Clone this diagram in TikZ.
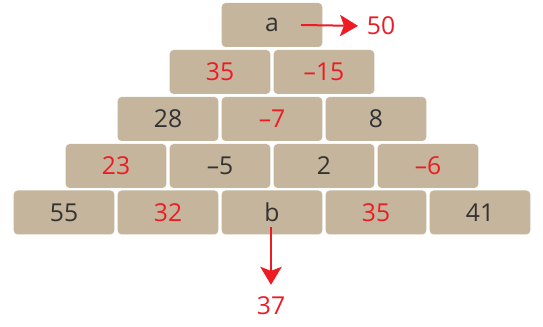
\documentclass[tikz,border=0pt]{standalone}
\usepackage{fontspec}
\setmainfont{Open Sans}
\usepackage{xcolor}
\usetikzlibrary{arrows.meta}

\definecolor{brickfill}{RGB}{196,181,156}
\definecolor{numred}{RGB}{237,28,36}
\definecolor{numdark}{RGB}{51,51,51}

\begin{document}
\begin{tikzpicture}[
    x=0.75pt, y=-0.75pt,
    font=\fontsize{18.5}{22}\selectfont,
    brick/.style={
        rectangle, rounded corners=3pt, fill=brickfill,
        minimum width=75.5pt, minimum height=33pt, inner sep=0pt,
        text=numdark
    },
    given/.style={brick, text=numdark},
    found/.style={brick, text=numred},
    result/.style={text=numred, inner sep=2pt},
    arrstyle/.style={-{Stealth[length=13.5pt,width=16pt,inset=3pt]}, line width=1.5pt, numred},
]
\useasboundingbox (0,0) rectangle (543,327);

% ---- Row 1 (top) ----
\node[given] (a) at (272,25) {a};

% ---- Row 2 ----
\node[found] (r2a) at (220,72) {35};
\node[found] (r2b) at (324,72) {–15};

% ---- Row 3 ----
\foreach \n/\x/\st/\lab in {a/168/given/28, b/272/found/–7, c/376/given/8} {
    \node[\st] (r3\n) at (\x,119) {\lab};
}

% ---- Row 4 ----
\foreach \n/\x/\st/\lab in {a/116/found/23, b/220/given/–5, c/324/given/2, d/428/found/–6} {
    \node[\st] (r4\n) at (\x,166) {\lab};
}

% ---- Row 5 (bottom) ----
\foreach \n/\x/\st/\lab in {a/64/given/55, b/168/found/32, c/272/given/b, d/376/found/35, e/480/given/41} {
    \node[\st] (r5\n) at (\x,212.5) {\lab};
}

% ---- Results ----
\node[result, anchor=west] (fifty) at (364,26) {50};
\coordinate (astart) at (301,25);
\draw[arrstyle, shorten >=4.5pt] (astart) -- (fifty.west);

\node[result] (thirtyseven) at (271,305.5) {37};
\coordinate (bstart) at (271,227);
\draw[arrstyle, shorten >=6.5pt] (bstart) -- (thirtyseven.north);

\end{tikzpicture}
\end{document}
